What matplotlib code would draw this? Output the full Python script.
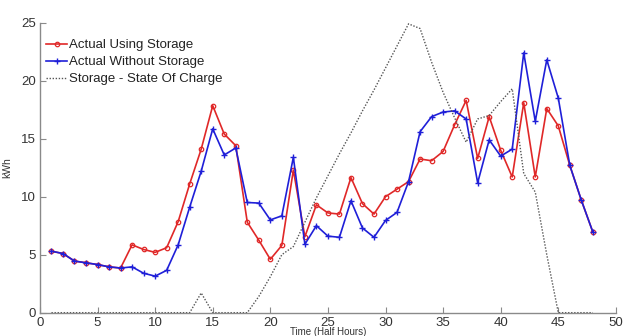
import matplotlib
matplotlib.use('Agg')
import matplotlib.pyplot as plt

# Данные
t = list(range(1, 49))

using_storage = [5.3, 5.1, 4.45, 4.3, 4.15, 3.95, 3.85, 5.85, 5.45, 5.2,
                 5.6, 7.85, 11.1, 14.1, 17.85, 15.4, 14.4, 7.8, 6.25, 4.6,
                 5.8, 12.3, 6.55, 9.3, 8.6, 8.5, 11.65, 9.4, 8.5, 10.0,
                 10.65, 11.3, 13.25, 13.1, 13.9, 16.2, 18.3, 13.3, 16.9, 14.0,
                 11.7, 18.1, 11.7, 17.6, 16.1, 12.7, 9.7, 6.95]

without_storage = [5.3, 5.1, 4.45, 4.3, 4.15, 3.95, 3.85, 3.95, 3.4, 3.15,
                   3.65, 5.85, 9.1, 12.2, 15.85, 13.6, 14.2, 9.5, 9.45, 8.0,
                   8.35, 13.4, 5.9, 7.5, 6.6, 6.5, 9.65, 7.3, 6.5, 7.95,
                   8.65, 11.3, 15.6, 16.9, 17.3, 17.4, 16.7, 11.2, 14.9, 13.5,
                   14.1, 22.4, 16.5, 21.8, 18.5, 12.7, 9.7, 6.95]

state_of_charge = [0, 0, 0, 0, 0, 0, 0, 0, 0, 0,
                   0, 0, 0, 1.7, 0, 0, 0, 0, 1.4, 3.1,
                   5.0, 5.7, 7.8, 9.9, 11.8, 13.7, 15.5, 17.4, 19.2, 21.1,
                   23.0, 24.9, 24.5, 21.6, 19.0, 16.8, 14.7, 16.7, 17.0, 18.2,
                   19.3, 12.0, 10.4, 5.0, 0, 0, 0, 0]

plt.rcParams['font.family'] = ['Liberation Sans', 'DejaVu Sans']

fig = plt.figure(figsize=(6.24, 3.36), dpi=100)
ax = fig.add_axes([0.064, 0.0694, 0.923, 0.863])

ax.plot(t, using_storage, color='#e02828', lw=1.2, marker='o', ms=3.2,
        mfc='none', mew=0.9, label='Actual Using Storage')
ax.plot(t, without_storage, color='#1f1fd8', lw=1.2, marker='+', ms=4.5,
        mew=1.0, label='Actual Without Storage')
ax.plot(t, state_of_charge, color='#555555', lw=1.0, ls=(0, (1, 1.2)),
        label='Storage - State Of Charge')

ax.set_xlim(0, 50)
ax.set_ylim(0, 25)
ax.set_xticks(range(0, 51, 5))
ax.set_yticks(range(0, 26, 5))

for s in ['top', 'right']:
    ax.spines[s].set_visible(False)
for s in ['left', 'bottom']:
    ax.spines[s].set_color('#8a8a8a')
    ax.spines[s].set_linewidth(1.0)

ax.tick_params(direction='in', length=4, color='#8a8a8a',
               labelsize=9.5, labelcolor='#333333', pad=3)

ax.set_xlabel('Time (Half Hours)', fontsize=7, color='#333333', labelpad=-1)
ax.set_ylabel('kWh', fontsize=7.5, color='#333333', labelpad=6)

ax.legend(loc='upper left', bbox_to_anchor=(-0.005, 0.975), frameon=False,
          fontsize=9.5, handlelength=1.6, handletextpad=0.1,
          labelspacing=0.35, borderaxespad=0.3, labelcolor='#222222')

fig.savefig('out.png', dpi=100)
